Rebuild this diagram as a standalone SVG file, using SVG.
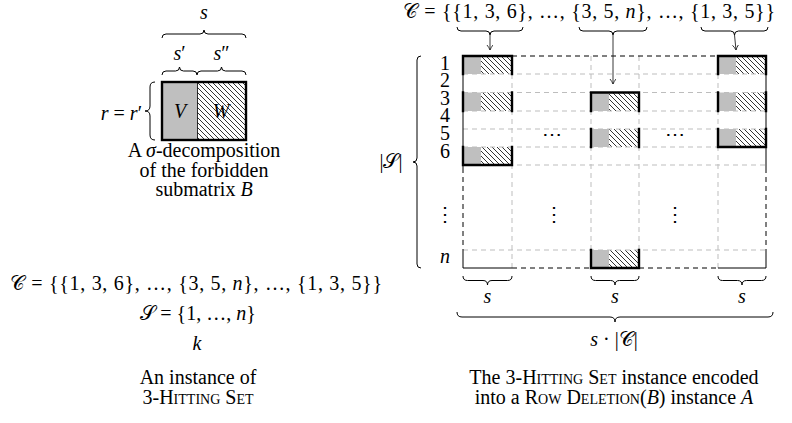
<svg xmlns="http://www.w3.org/2000/svg" width="792" height="423" viewBox="0 0 792 423">
<style>
text{font-family:"Liberation Serif","DejaVu Serif",serif;font-size:20px;fill:#000}
.c{text-anchor:middle}
.i{font-style:italic}
.sc{font-variant:small-caps}
.br{fill:none;stroke:#000;stroke-width:1}
.grey{fill:#bfbfbf}
.hat{fill:url(#hatch)}
.grid{fill:none;stroke:#bdbdbd;stroke-width:1;stroke-dasharray:5 4}
.bd{fill:none;stroke:#000;stroke-width:1}
.bdd{fill:none;stroke:#000;stroke-width:1;stroke-dasharray:5 4}
.thick{fill:none;stroke:#000;stroke-width:2.4;stroke-linecap:square}
.arr{fill:none;stroke:#222;stroke-width:0.9;marker-end:url(#ah)}
</style>
<defs>
<pattern id="hatch" patternUnits="userSpaceOnUse" width="5" height="5">
<path d="M-1,-1 L6,6 M-1,4 L1,6 M4,-1 L6,1" stroke="#000" stroke-width="0.8"/>
</pattern>
<marker id="ah" markerWidth="8" markerHeight="8" refX="5" refY="3" orient="auto" markerUnits="userSpaceOnUse">
<path d="M0,0 Q2.5,2 5,3 Q2.5,4 0,6" fill="none" stroke="#222" stroke-width="0.9"/>
</marker>
</defs>
<rect width="792" height="423" fill="#fff"/>

<g id="decomposition">
<text x="204" y="19" class="c i">s</text>
<path class="br" d="M162,38 Q162,34 166,34 L200,34 Q204,34 204,30 Q204,34 208,34 L242,34 Q246,34 246,38"/>
<text x="179.5" y="60" class="c"><tspan class="i">s</tspan>′</text>
<text x="221.5" y="60" class="c"><tspan class="i">s</tspan>″</text>
<path class="br" d="M162,75 Q162,71 166,71 L175.5,71 Q179.5,71 179.5,67 Q179.5,71 183.5,71 L193,71 Q197,71 197,75"/>
<path class="br" d="M197,75 Q197,71 201,71 L217.5,71 Q221.5,71 221.5,67 Q221.5,71 225.5,71 L242,71 Q246,71 246,75"/>
<text x="142" y="120" text-anchor="end"><tspan class="i">r</tspan> = <tspan class="i">r</tspan>′</text>
<path class="br" d="M155,82 Q150,82 150,87 L150,106 Q150,111 145,111 Q150,111 150,116 L150,135 Q150,140 155,140"/>
<rect class="grey" x="162" y="82" width="35.5" height="58"/>
<rect class="hat" x="197.5" y="82" width="48.5" height="58"/>
<line x1="197.5" y1="82" x2="197.5" y2="140" stroke="#000" stroke-width="0.8"/>
<rect x="162" y="82" width="84" height="58" fill="none" stroke="#000" stroke-width="2.4"/>
<text x="180" y="118" class="c i">V</text>
<text x="221" y="118" class="c i">W</text>
<text x="204" y="157" class="c">A <tspan class="i">σ</tspan>-decomposition</text>
<text x="204" y="177" class="c">of the forbidden</text>
<text x="204" y="196" class="c">submatrix <tspan class="i">B</tspan></text>
</g>

<g id="instance">
<text x="10" y="290" textLength="372" lengthAdjust="spacing">𝒞 = {{1, 3, 6}, …, {3, 5, <tspan class="i">n</tspan>}, …, {1, 3, 5}}</text>
<text x="198" y="320" class="c">𝒮 = {1, …, <tspan class="i">n</tspan>}</text>
<text x="197" y="350" class="c i">k</text>
<text x="198" y="384" class="c">An instance of</text>
<text x="198" y="404" class="c">3-<tspan class="sc">Hitting Set</tspan></text>
</g>

<g id="collection">
<text x="403" y="18" textLength="372" lengthAdjust="spacing">𝒞 = {{1, 3, 6}, …, {3, 5, <tspan class="i">n</tspan>}, …, {1, 3, 5}}</text>
<path class="br" d="M457,27 Q457,31 461,31 L486,31 Q490,31 490,35 Q490,31 494,31 L519,31 Q523,31 523,27"/>
<path class="br" d="M579,27 Q579,31 583,31 L609,31 Q613,31 613,35 Q613,31 617,31 L643,31 Q647,31 647,27"/>
<path class="br" d="M701,27 Q701,31 705,31 L730.5,31 Q734.5,31 734.5,35 Q734.5,31 738.5,31 L764,31 Q768,31 768,27"/>
</g>

<g id="matrix">
<g id="cells">
<rect class="grey" x="463" y="56" width="18" height="18"/><rect class="hat" x="481" y="56" width="31" height="18"/>
<rect class="grey" x="463" y="92.5" width="18" height="18.5"/><rect class="hat" x="481" y="92.5" width="31" height="18.5"/>
<rect class="grey" x="463" y="147" width="18" height="18"/><rect class="hat" x="481" y="147" width="31" height="18"/>
<rect class="grey" x="591" y="92.5" width="18" height="18.5"/><rect class="hat" x="609" y="92.5" width="30" height="18.5"/>
<rect class="grey" x="591" y="129" width="18" height="18"/><rect class="hat" x="609" y="129" width="30" height="18"/>
<rect class="grey" x="591" y="250" width="18" height="18"/><rect class="hat" x="609" y="250" width="30" height="18"/>
<rect class="grey" x="718" y="56" width="18" height="18"/><rect class="hat" x="736" y="56" width="30" height="18"/>
<rect class="grey" x="718" y="92.5" width="18" height="18.5"/><rect class="hat" x="736" y="92.5" width="30" height="18.5"/>
<rect class="grey" x="718" y="129" width="18" height="18"/><rect class="hat" x="736" y="129" width="30" height="18"/>
</g>
<path class="grid" d="M463,74 H766 M463,92.5 H766 M463,111 H766 M463,129 H766 M463,147 H766 M463,165 H766 M463,250 H766 M512,56 V268 M591,56 V268 M639,56 V268 M718,56 V268"/>
<path class="bd" d="M463,56 V168 M463,250 V268 M766,56 V168 M766,250 V268 M463,268 H512 M718,268 H766"/>
<path class="bdd" d="M463,168 V250 M766,168 V250 M512,56 H718 M512,268 H591 M639,268 H718"/>
<path class="thick" d="M463,56 H512 M463,165 H512 M463,56 V74 M512,56 V74 M463,92.5 V111 M512,92.5 V111 M463,147 V165 M512,147 V165"/>
<path class="thick" d="M591,92.5 H639 M591,268 H639 M591,92.5 V111 M639,92.5 V111 M591,129 V147 M639,129 V147 M591,250 V268 M639,250 V268"/>
<path class="thick" d="M718,56 H766 M718,147 H766 M718,56 V74 M766,56 V74 M718,92.5 V111 M766,92.5 V111 M718,129 V147 M766,129 V147"/>
<text x="552" y="141" class="c">⋯</text>
<text x="675" y="141" class="c">⋯</text>
<text x="554" y="221" class="c">⋮</text>
<text x="675" y="221" class="c">⋮</text>
</g>

<g id="rowlabels">
<text x="445" y="70" class="c">1</text>
<text x="445" y="87" class="c">2</text>
<text x="445" y="105" class="c">3</text>
<text x="445" y="122" class="c">4</text>
<text x="445" y="140" class="c">5</text>
<text x="445" y="158" class="c">6</text>
<text x="445" y="221" class="c">⋮</text>
<text x="445" y="263" class="c i">n</text>
<path class="br" d="M421,56 Q417,56 417,60 L417,158 Q417,162 413,162 Q417,162 417,166 L417,264 Q417,268 421,268"/>
<text x="391" y="168" class="c">|𝒮|</text>
</g>

<g id="widths">
<path class="br" d="M463,276 Q463,280.5 467.5,280.5 L483,280.5 Q487.5,280.5 487.5,285 Q487.5,280.5 492,280.5 L507.5,280.5 Q512,280.5 512,276"/>
<path class="br" d="M591,276 Q591,280.5 595.5,280.5 L610.5,280.5 Q615,280.5 615,285 Q615,280.5 619.5,280.5 L634.5,280.5 Q639,280.5 639,276"/>
<path class="br" d="M718,276 Q718,280.5 722.5,280.5 L737.5,280.5 Q742,280.5 742,285 Q742,280.5 746.5,280.5 L761.5,280.5 Q766,280.5 766,276"/>
<text x="487.5" y="303" class="c i">s</text>
<text x="615" y="303" class="c i">s</text>
<text x="742" y="303" class="c i">s</text>
<path class="br" d="M457,312 Q457,317 462,317 L610,317 Q615,317 615,322 Q615,317 620,317 L768,317 Q773,317 773,312"/>
<text x="614" y="346" class="c"><tspan class="i">s</tspan> · |𝒞|</text>
</g>

<g id="caption">
<text x="614" y="384" class="c">The 3-<tspan class="sc">Hitting Set</tspan> instance encoded</text>
<text x="614" y="404" class="c">into a <tspan class="sc">Row Deletion</tspan>(<tspan class="i">B</tspan>) instance <tspan class="i">A</tspan></text>
</g>

<g id="connectors">
<line class="arr" x1="490" y1="35" x2="490" y2="50"/>
<line class="arr" x1="613" y1="35" x2="613" y2="84"/>
<line class="arr" x1="734.5" y1="35" x2="736" y2="50"/>
</g>
</svg>
